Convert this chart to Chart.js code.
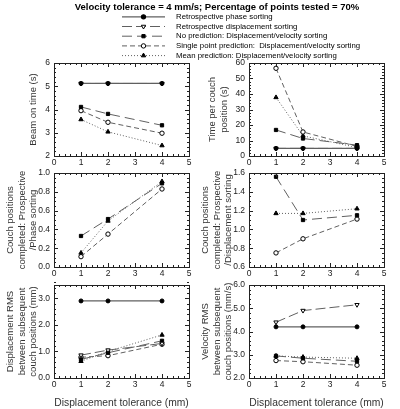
<!DOCTYPE html>
<html>
<head>
<meta charset="utf-8">
<script src="https://cdn.jsdelivr.net/npm/chart.js@4.4.1/dist/chart.umd.min.js"></script>
<style>
  body { margin: 0; background: #fff; width: 400px; height: 409px; position: relative; overflow: hidden; }
  canvas { position: absolute; }
</style>
</head>
<body>
<canvas id="header"></canvas>
<canvas id="beam"></canvas>
<canvas id="timePer"></canvas>
<canvas id="phaseRatio"></canvas>
<canvas id="dispRatio"></canvas>
<canvas id="dispRms"></canvas>
<canvas id="velRms"></canvas>
<script>
// ---- data ----
const tolerances = [1, 2, 4];
const seriesNames = [
  'Retrospective phase sorting',
  'Retrospective displacement sorting',
  'No prediction: Displacement/velocity sorting',
  'Single point prediction:  Displacement/velocity sorting',
  'Mean prediction: Displacement/velocity sorting'
];

// Beam on time (s)
const beamPhase = [5.12, 5.12, 5.12];
const beamRetro = [5.12, 5.12, 5.12];
const beamNoPred = [4.11, 3.81, 3.32];
const beamSingle = [3.95, 3.45, 2.98];
const beamMean = [3.57, 3.04, 2.45];

// Time per couch position (s)
const timePhase = [4.9, 4.9, 4.9];
const timeRetro = [4.9, 4.9, 4.9];
const timeNoPred = [16.8, 11.3, 7.0];
const timeSingle = [56.6, 15.5, 6.2];
const timeMean = [37.8, 13.0, 5.5];

// Couch positions completed: prospective / phase sorting
const phaseRatioNoPred = [0.33, 0.51, 0.89];
const phaseRatioSingle = [0.11, 0.35, 0.83];
const phaseRatioMean = [0.15, 0.49, 0.91];

// Couch positions completed: prospective / displacement sorting
const dispRatioNoPred = [1.56, 1.10, 1.15];
const dispRatioSingle = [0.75, 0.90, 1.11];
const dispRatioMean = [1.17, 1.17, 1.22];

// Displacement RMS between subsequent couch positions (mm)
const dispRmsPhase = [2.9, 2.9, 2.9];
const dispRmsRetro = [0.86, 1.05, 1.30];
const dispRmsNoPred = [0.70, 0.95, 1.40];
const dispRmsSingle = [0.78, 0.84, 1.27];
const dispRmsMean = [0.63, 1.00, 1.62];

// Velocity RMS between subsequent couch positions (mm/s)
const velRmsPhase = [4.2, 4.2, 4.2];
const velRmsRetro = [4.4, 4.9, 5.15];
const velRmsNoPred = [2.95, 2.85, 2.72];
const velRmsSingle = [2.75, 2.70, 2.55];
const velRmsMean = [2.95, 2.90, 2.85];

// ---- styles ----
const FONT = "'Liberation Sans', Arial, sans-serif";
const LINE = '#606060';
const styles = [
  { borderDash: [], pointStyle: 'circle', radius: 2, fill: true, rotation: 0, lineWidth: 1.3 },
  { borderDash: [10, 4], pointStyle: 'triangle', radius: 2.5, fill: false, rotation: 180, lineWidth: 1 },
  { borderDash: [10, 5], pointStyle: 'rect', radius: 2.3, fill: true, rotation: 0, lineWidth: 1 },
  { borderDash: [5, 3], pointStyle: 'circle', radius: 2.2, fill: false, rotation: 0, lineWidth: 1 },
  { borderDash: [1, 2], pointStyle: 'triangle', radius: 2.5, fill: true, rotation: 0, lineWidth: 1 }
];

function makeDataset(idx, values) {
  const s = styles[idx];
  return {
    label: seriesNames[idx],
    data: tolerances.map((t, i) => ({ x: t, y: values[i] })),
    borderColor: LINE,
    borderWidth: s.lineWidth,
    borderDash: s.borderDash,
    pointStyle: s.pointStyle,
    pointRadius: s.radius,
    pointRotation: s.rotation,
    pointBorderColor: '#000',
    pointBorderWidth: 1,
    pointBackgroundColor: s.fill ? '#000' : '#fff',
    tension: 0,
    fill: false
  };
}

// frame with inward major/minor ticks on all four sides
const boxTicks = {
  id: 'boxTicks',
  afterDraw(chart, args, opts) {
    const { ctx, chartArea: a, scales: { x, y } } = chart;
    ctx.save();
    ctx.strokeStyle = '#222';
    ctx.lineWidth = 1;
    ctx.strokeRect(Math.round(a.left) + 0.5, Math.round(a.top) + 0.5,
      Math.round(a.right - a.left), Math.round(a.bottom - a.top));
    ctx.beginPath();
    const marks = (scale, major, minor, fn) => {
      const n = Math.round((scale.max - scale.min) / minor);
      for (let i = 0; i <= n; i++) {
        const v = scale.min + i * minor;
        const isMajor = Math.abs(v / major - Math.round(v / major)) < 1e-6;
        fn(Math.round(scale.getPixelForValue(v)) + 0.5, isMajor ? 4 : 2);
      }
    };
    marks(x, 1, 0.2, (px, len) => {
      ctx.moveTo(px, a.bottom); ctx.lineTo(px, a.bottom - len);
      ctx.moveTo(px, a.top); ctx.lineTo(px, a.top + len);
    });
    marks(y, opts.major, opts.minor, (py, len) => {
      ctx.moveTo(a.left, py); ctx.lineTo(a.left + len, py);
      ctx.moveTo(a.right, py); ctx.lineTo(a.right - len, py);
    });
    ctx.stroke();
    ctx.restore();
  }
};

function panel(id, box, yAxis, datasets, showXTitle) {
  const el = document.getElementById(id);
  const yW = 54, padTop = 10, padRight = 12;
  const xH = showXTitle ? 409 - box.b : 14;
  el.style.left = (box.l - yW) + 'px';
  el.style.top = (box.t - padTop) + 'px';
  el.width = box.r - box.l + yW + padRight;
  el.height = box.b - box.t + padTop + xH;
  return new Chart(el, {
    type: 'line',
    data: { datasets: datasets },
    plugins: [boxTicks],
    options: {
      responsive: false,
      animation: false,
      layout: { padding: { top: padTop, right: padRight, left: 0, bottom: 0 } },
      plugins: {
        legend: { display: false },
        tooltip: { enabled: false },
        boxTicks: { major: yAxis.step, minor: yAxis.minor }
      },
      scales: {
        x: {
          type: 'linear', min: 0, max: 5,
          grid: { display: false, drawTicks: false },
          border: { display: false },
          ticks: { stepSize: 1, padding: 2, color: '#222', font: { family: FONT, size: 8.5 } },
          title: {
            display: showXTitle, text: 'Displacement tolerance (mm)', color: '#333',
            font: { family: FONT, size: 10.3 }, padding: { top: 0, bottom: 0 }
          },
          afterFit: s => { s.height = xH; }
        },
        y: {
          min: yAxis.min, max: yAxis.max,
          grid: { display: false, drawTicks: false },
          border: { display: false },
          ticks: {
            stepSize: yAxis.step, padding: 4, color: '#222', font: { family: FONT, size: 8.5 },
            callback: v => (yAxis.hide && yAxis.hide(v)) ? '' : v.toFixed(yAxis.dec)
          },
          title: {
            display: true, text: yAxis.title, color: '#333',
            font: { family: FONT, size: 9.5, lineHeight: 1.2 },
            padding: { top: yAxis.titlePad, bottom: 0 }
          },
          afterFit: s => { s.width = yW; }
        }
      }
    }
  });
}

panel('beam', { l: 54, t: 63, r: 189, b: 156 },
  { min: 2, max: 6, step: 1, minor: 0.2, dec: 0, title: ['Beam on time (s)'], titlePad: 28 },
  [makeDataset(0, beamPhase), makeDataset(1, beamRetro), makeDataset(2, beamNoPred),
   makeDataset(3, beamSingle), makeDataset(4, beamMean)], false);

panel('timePer', { l: 249, t: 63, r: 384, b: 156 },
  { min: 0, max: 60, step: 10, minor: 2, dec: 0, title: ['Time per couch', 'position (s)'], titlePad: 12 },
  [makeDataset(0, timePhase), makeDataset(1, timeRetro), makeDataset(2, timeNoPred),
   makeDataset(3, timeSingle), makeDataset(4, timeMean)], false);

panel('phaseRatio', { l: 54, t: 173, r: 189, b: 267 },
  { min: 0, max: 1, step: 0.2, minor: 0.05, dec: 1,
    title: ['Couch positions', 'completed: Prospective', '/Phase sorting'], titlePad: 5 },
  [makeDataset(2, phaseRatioNoPred), makeDataset(3, phaseRatioSingle), makeDataset(4, phaseRatioMean)], false);

panel('dispRatio', { l: 249, t: 173, r: 384, b: 267 },
  { min: 0.6, max: 1.6, step: 0.2, minor: 0.05, dec: 1,
    title: ['Couch positions', 'completed: Prospective', '/Displacement sorting'], titlePad: 5 },
  [makeDataset(2, dispRatioNoPred), makeDataset(3, dispRatioSingle), makeDataset(4, dispRatioMean)], false);

panel('dispRms', { l: 54, t: 285, r: 189, b: 378 },
  { min: 0, max: 3.5, step: 1, minor: 0.2, dec: 1, hide: v => v > 3.2,
    title: ['Displacement RMS', 'between subsequent', 'couch positions (mm)'], titlePad: 5 },
  [makeDataset(0, dispRmsPhase), makeDataset(1, dispRmsRetro), makeDataset(2, dispRmsNoPred),
   makeDataset(3, dispRmsSingle), makeDataset(4, dispRmsMean)], true);

panel('velRms', { l: 249, t: 285, r: 384, b: 378 },
  { min: 2, max: 6, step: 1, minor: 0.2, dec: 1,
    title: ['Velocity RMS', 'between subsequent', 'couch positions (mm/s)'], titlePad: 5 },
  [makeDataset(0, velRmsPhase), makeDataset(1, velRmsRetro), makeDataset(2, velRmsNoPred),
   makeDataset(3, velRmsSingle), makeDataset(4, velRmsMean)], true);

// ---- header: title + legend drawn from the dataset styles ----
const headerLegend = {
  id: 'headerLegend',
  afterDraw(chart) {
    const ctx = chart.ctx;
    ctx.save();
    ctx.fillStyle = '#000';
    ctx.textBaseline = 'middle';
    ctx.textAlign = 'center';
    ctx.font = 'bold 9.5px ' + FONT;
    ctx.fillText('Velocity tolerance = 4 mm/s; Percentage of points tested = 70%', 217, 7);
    ctx.textAlign = 'left';
    ctx.font = '7.8px ' + FONT;
    chart.data.datasets.forEach((ds, i) => {
      const y = 16.8 + i * 9.7;
      ctx.strokeStyle = ds.borderColor;
      ctx.lineWidth = ds.borderWidth;
      ctx.setLineDash(ds.borderDash);
      ctx.beginPath();
      ctx.moveTo(122, y); ctx.lineTo(165, y);
      ctx.stroke();
      ctx.setLineDash([]);
      ctx.fillStyle = ds.pointBackgroundColor;
      ctx.strokeStyle = ds.pointBorderColor;
      Chart.helpers.drawPoint(ctx, {
        pointStyle: ds.pointStyle, radius: ds.pointRadius, rotation: ds.pointRotation, borderWidth: 1
      }, 143.5, y);
      ctx.fillStyle = '#000';
      ctx.fillText(ds.label, 176, y);
    });
    ctx.restore();
  }
};

const hdr = document.getElementById('header');
hdr.width = 400; hdr.height = 62;
hdr.style.left = '0px'; hdr.style.top = '0px';
new Chart(hdr, {
  type: 'line',
  data: { datasets: [0, 1, 2, 3, 4].map(i => makeDataset(i, [])) },
  plugins: [headerLegend],
  options: {
    responsive: false, animation: false,
    plugins: { legend: { display: false }, tooltip: { enabled: false } },
    scales: { x: { display: false }, y: { display: false } }
  }
});
</script>
</body>
</html>
